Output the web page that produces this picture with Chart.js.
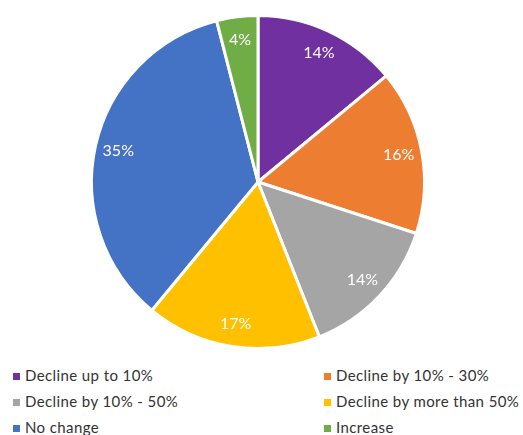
<!DOCTYPE html>
<html lang="en">
<head>
<meta charset="UTF-8">
<title>Pie chart</title>
<script src="https://cdn.jsdelivr.net/npm/chart.js"></script>
<style>
    body {
        margin: 0;
        padding: 0;
        background: #ffffff;
        width: 523px;
        height: 435px;
        overflow: hidden;
        position: relative;
        font-family: Lato, "Open Sans", sans-serif;
    }
    .pie-box {
        position: absolute;
        left: 0;
        top: 14px;
        width: 516px;
        height: 336px;
    }
    .legend {
        position: absolute;
        left: 13px;
        top: 366px;
        width: 520px;
    }
    .legend-item {
        position: absolute;
        font-size: 15px;
        letter-spacing: 0.4px;
        color: #333333;
        white-space: nowrap;
    }
    .legend-item span {
        display: inline-block;
        width: 7px;
        height: 7px;
        margin-right: 5px;
        vertical-align: 1px;
    }
</style>
</head>
<body>
<div class="pie-box"><canvas id="pie"></canvas></div>
<div class="legend" id="legend"></div>
<script>
    const categories = ["Decline up to 10%", "Decline by 10% - 30%", "Decline by 10% - 50%",
                        "Decline by more than 50%", "No change", "Increase"];
    const shares = [14, 16, 14, 17, 35, 4];
    const colours = ["#7030A0", "#ED7D31", "#A5A5A5", "#FFC000", "#4472C4", "#70AD47"];

    // labels inside each slice
    const sliceLabels = {
        id: "sliceLabels",
        afterDatasetsDraw(chart) {
            const ctx = chart.ctx;
            const meta = chart.getDatasetMeta(0);
            ctx.save();
            ctx.fillStyle = "#ffffff";
            ctx.font = "16px Lato, 'Open Sans', sans-serif";
            ctx.textAlign = "center";
            ctx.textBaseline = "middle";
            meta.data.forEach((arc, i) => {
                const mid = (arc.startAngle + arc.endAngle) / 2;
                const r = arc.outerRadius * 0.86;
                ctx.fillText(shares[i] + "%", arc.x + Math.cos(mid) * r, arc.y + Math.sin(mid) * r);
            });
            ctx.restore();
        }
    };

    new Chart(document.getElementById("pie"), {
        type: "pie",
        data: {
            labels: categories,
            datasets: [{
                data: shares,
                backgroundColor: colours,
                borderColor: "#ffffff",
                borderWidth: 3
            }]
        },
        options: {
            responsive: true,
            maintainAspectRatio: false,
            animation: false,
            plugins: {
                legend: { display: false },
                tooltip: { enabled: false }
            }
        },
        plugins: [sliceLabels]
    });

    // two column legend under the pie
    const legend = document.getElementById("legend");
    categories.forEach((name, i) => {
        const item = document.createElement("div");
        item.className = "legend-item";
        item.style.left = (i % 2 === 0 ? 0 : 311) + "px";
        item.style.top = (Math.floor(i / 2) * 26) + "px";
        item.innerHTML = `<span style="background:${colours[i]}"></span>${name}`;
        legend.appendChild(item);
    });
</script>
</body>
</html>
